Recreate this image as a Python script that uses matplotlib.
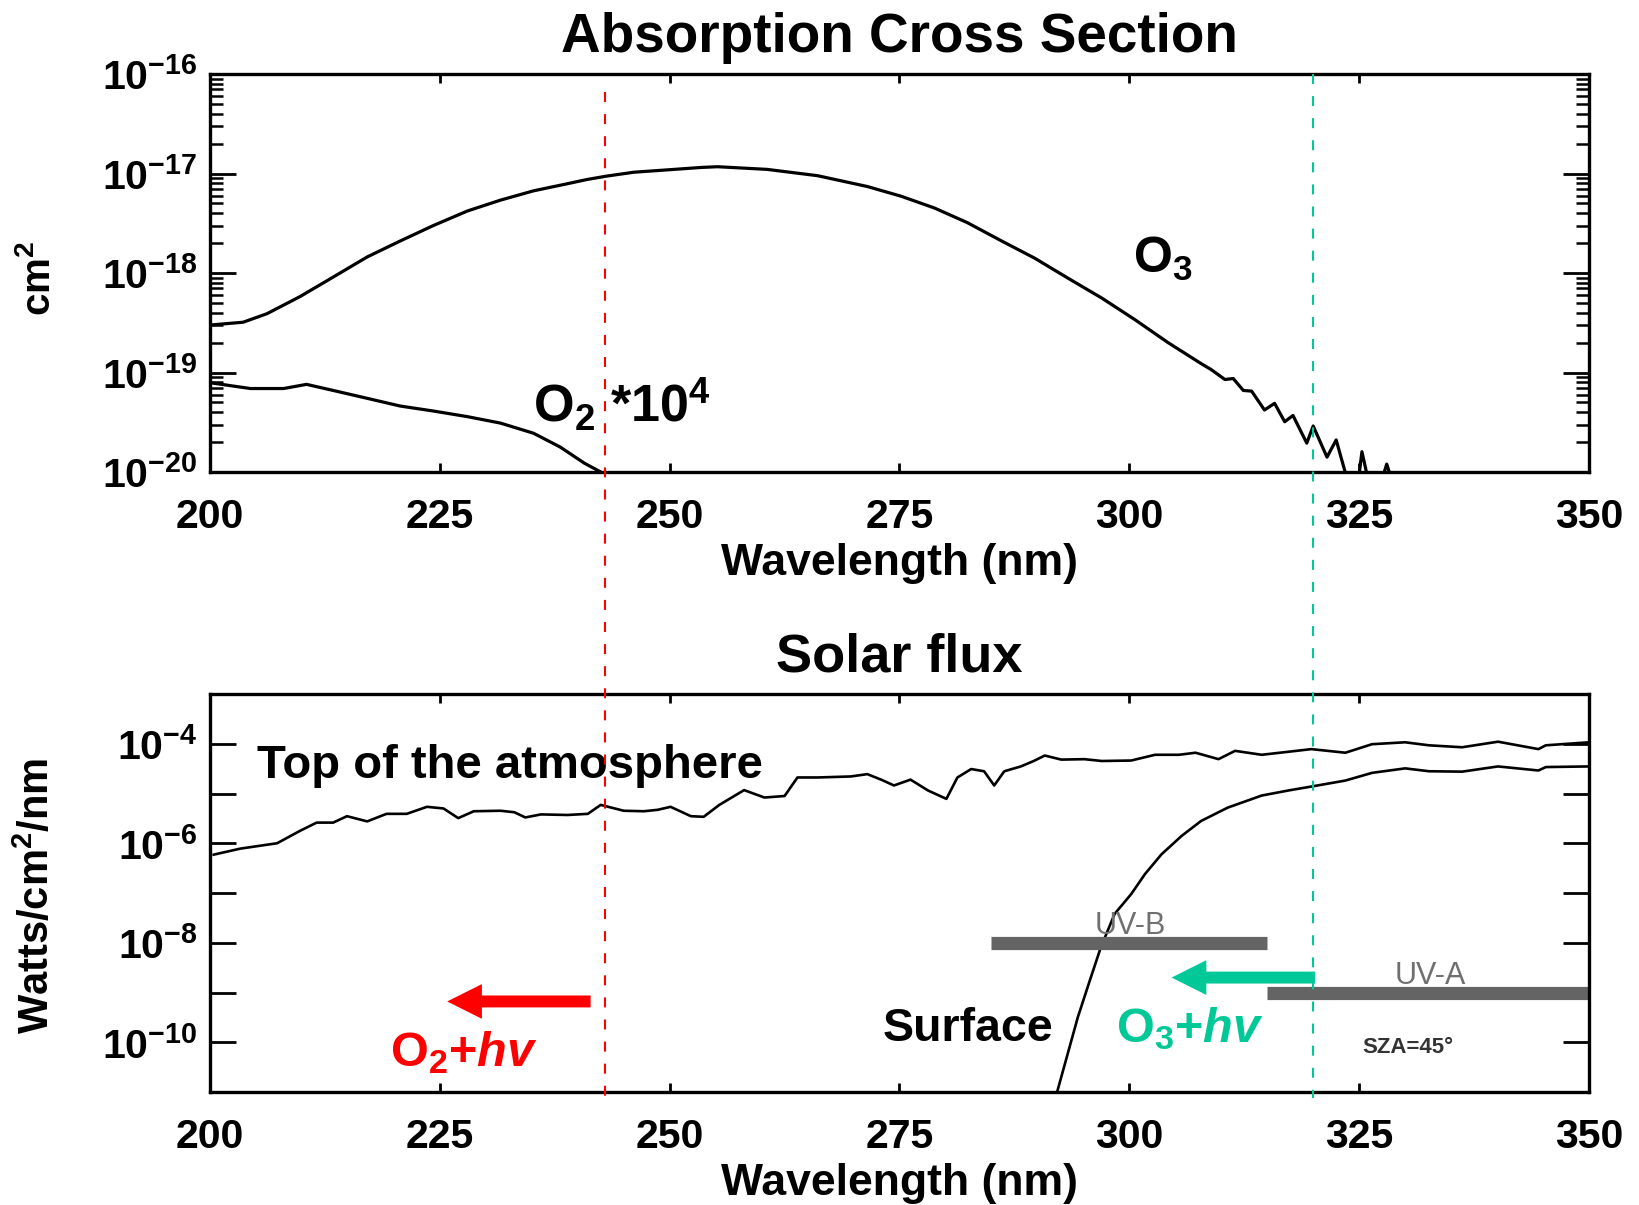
import numpy as np
import matplotlib
matplotlib.use("Agg")
import matplotlib.pyplot as plt
from matplotlib.ticker import FixedLocator, FuncFormatter, NullLocator
from matplotlib.lines import Line2D
from matplotlib.transforms import blended_transform_factory

plt.rcParams['font.family'] = ['Liberation Sans', 'DejaVu Sans']
plt.rcParams['font.weight'] = 'bold'
plt.rcParams['axes.titleweight'] = 'bold'
plt.rcParams['axes.labelweight'] = 'bold'
plt.rcParams['mathtext.fontset'] = 'custom'
plt.rcParams['mathtext.rm'] = 'Liberation Sans:bold'
plt.rcParams['mathtext.it'] = 'Liberation Sans:bold:italic'
plt.rcParams['mathtext.bf'] = 'Liberation Sans:bold'
plt.rcParams['mathtext.default'] = 'rm'

# --- absorption cross sections (cm^2) ---
o3_wl = [200.0, 203.6, 206.2, 209.8, 213.4, 217.1, 220.7, 224.3, 228.0, 231.6,
         235.2, 238.9, 241.0, 243.1, 246.1, 250.5, 253.4, 255.2, 260.6, 266.1, 271.5,
         275.2, 278.8, 282.4, 286.1, 289.7, 293.3, 297.0, 300.6, 304.2, 307.8,
         308.9, 310.4, 311.3, 312.4, 313.3, 314.7, 315.8, 316.9, 317.8, 319.3,
         320.0, 321.5, 322.5, 323.5, 324.3, 325.0, 325.3, 325.9, 327.4, 328.0,
         328.6, 330.0, 340.0, 350.0]
o3_sigma = [3.0e-19, 3.2e-19, 3.9e-19, 5.8e-19, 9.1e-19, 1.45e-18, 2.1e-18, 3.0e-18, 4.2e-18, 5.4e-18,
            6.7e-18, 7.9e-18, 8.7e-18, 9.4e-18, 1.03e-17, 1.10e-17, 1.15e-17, 1.17e-17, 1.10e-17, 9.5e-18, 7.4e-18,
            5.9e-18, 4.5e-18, 3.2e-18, 2.1e-18, 1.41e-18, 8.9e-19, 5.6e-19, 3.4e-19, 2.0e-19, 1.23e-19,
            1.07e-19, 8.5e-20, 8.7e-20, 6.6e-20, 6.5e-20, 4.2e-20, 4.9e-20, 3.2e-20, 3.7e-20, 1.95e-20,
            2.9e-20, 1.41e-20, 2.1e-20, 9.8e-21, 8.0e-21, 9.5e-21, 1.6e-20, 9.0e-21, 8.0e-21, 1.2e-20,
            8.0e-21, 5.0e-21, 1.0e-21, 1.0e-22]

o2_scale = 1e4
o2_wl = [200.0, 204.4, 208.0, 210.5, 213.4, 217.1, 220.7, 224.3, 228.0, 231.6,
         235.2, 238.1, 240.7, 242.5, 243.5, 245.0]
o2_sigma = [7.9e-24, 6.9e-24, 6.9e-24, 7.6e-24, 6.6e-24, 5.5e-24, 4.6e-24, 4.1e-24, 3.6e-24, 3.1e-24,
            2.45e-24, 1.78e-24, 1.23e-24, 1.0e-24, 8.0e-25, 5.0e-25]

# --- solar spectral irradiance (W/cm^2/nm) ---
toa_wl = [200.4, 203.3, 207.3, 209.8, 211.6, 213.4, 214.9, 217.1, 219.2, 221.4,
          223.6, 225.4, 227.0, 228.7, 231.6, 233.1, 234.3, 236.0, 238.9, 241.1,
          242.5, 245.0, 247.2, 248.7, 250.1, 252.3, 253.7, 255.4, 258.1, 260.3,
          262.5, 263.9, 266.1, 269.7, 271.5, 273.0, 274.4, 276.2, 278.1, 280.1,
          281.3, 282.8, 284.2, 285.3, 286.4, 288.2, 289.6, 290.8, 292.6, 295.1,
          297.0, 300.2, 302.8, 305.4, 307.2, 309.7, 311.5, 314.4, 317.3, 319.8,
          323.5, 326.4, 330.0, 332.6, 336.2, 340.1, 344.5, 345.3, 350.0]
toa_flux = [5.9e-7, 7.8e-7, 1.0e-6, 1.78e-6, 2.6e-6, 2.6e-6, 3.5e-6, 2.75e-6, 3.9e-6, 3.9e-6,
            5.4e-6, 5.0e-6, 3.2e-6, 4.4e-6, 4.5e-6, 4.2e-6, 3.3e-6, 3.8e-6, 3.7e-6, 3.9e-6,
            5.9e-6, 4.5e-6, 4.4e-6, 4.7e-6, 5.4e-6, 3.5e-6, 3.4e-6, 5.9e-6, 1.17e-5, 8.3e-6,
            8.9e-6, 2.1e-5, 2.1e-5, 2.2e-5, 2.45e-5, 1.9e-5, 1.45e-5, 1.9e-5, 1.15e-5, 7.8e-6,
            2.1e-5, 3.1e-5, 2.8e-5, 1.45e-5, 2.8e-5, 3.5e-5, 4.5e-5, 5.8e-5, 4.8e-5, 4.9e-5,
            4.5e-5, 4.6e-5, 6.0e-5, 6.0e-5, 6.6e-5, 4.9e-5, 7.2e-5, 6.0e-5, 6.9e-5, 7.8e-5,
            6.6e-5, 9.8e-5, 1.07e-4, 9.3e-5, 8.5e-5, 1.10e-4, 7.8e-5, 9.3e-5, 1.07e-4]

sfc_wl = [292.0, 293.3, 294.4, 295.7, 296.9, 298.4, 300.2, 301.7, 303.5, 305.7,
          307.8, 310.7, 314.4, 317.3, 319.8, 323.5, 326.4, 330.0, 332.6, 336.2,
          340.1, 344.5, 345.3, 350.0]
sfc_flux = [8.0e-12, 5.9e-11, 3.2e-10, 1.74e-9, 8.1e-9, 3.8e-8, 9.5e-8, 2.4e-7, 6.0e-7, 1.41e-6,
            2.8e-6, 5.2e-6, 9.1e-6, 1.15e-5, 1.38e-5, 1.82e-5, 2.6e-5, 3.2e-5, 2.8e-5, 2.75e-5,
            3.5e-5, 2.9e-5, 3.4e-5, 3.5e-5]

# UV bands: name, start, end, level
uv_names = ['UV-B', 'UV-A']
uv_start = [285, 315]
uv_end = [315, 350]
uv_level = [1e-8, 1e-9]
uv_label_x = [300.1, 332.7]

# photolysis thresholds (nm)
o2_threshold = 243
o3_threshold = 320

RED = '#ff0000'
GREEN = '#00c896'

W, H = 1639, 1205
fig = plt.figure(figsize=(W / 100, H / 100), dpi=100)
ax1 = fig.add_axes([210 / W, 1 - 472 / H, 1379 / W, 398 / H])
ax2 = fig.add_axes([210 / W, 1 - 1092 / H, 1379 / W, 398 / H])


def exp_label(v, pos):
    return r'$10^{%d}$' % round(np.log10(v))


def even_exp_label(v, pos):
    k = round(np.log10(v))
    if k % 2 == 0 and k < -3:
        return r'$10^{%d}$' % k
    return ''


for ax in (ax1, ax2):
    for s in ax.spines.values():
        s.set_linewidth(2.4)
    ax.set_xlim(200, 350)
    ax.set_xticks([200, 225, 250, 275, 300, 325, 350])
    ax.set_yscale('log')
    ax.tick_params(which='both', direction='in', top=True, right=True, width=2, labelsize=29.5)
    ax.tick_params(axis='x', which='major', length=6.5, pad=19)
    ax.tick_params(axis='y', which='major', length=19, pad=9)
    ax.tick_params(axis='y', which='minor', length=9.5, width=1.8)
    ax.set_xlabel('Wavelength (nm)', fontsize=32, labelpad=5)

# top panel: cross sections
ax1.set_ylim(1e-20, 1e-16)
ax1.yaxis.set_major_locator(FixedLocator([10.0 ** k for k in range(-20, -15)]))
ax1.yaxis.set_minor_locator(FixedLocator([m * 10.0 ** k for k in range(-20, -16) for m in range(2, 10)]))
ax1.yaxis.set_major_formatter(FuncFormatter(exp_label))
ax1.yaxis.set_minor_formatter(FuncFormatter(lambda v, pos: ''))
ax1.plot(o3_wl, o3_sigma, color='black', lw=2.3)
ax1.plot(o2_wl, np.array(o2_sigma) * o2_scale, color='black', lw=2.3)
ax1.set_title('Absorption Cross Section', fontsize=39.5, pad=16)
ax1.text(300.4, 1e-18, r'O$_3$', fontsize=36, ha='left', va='baseline')
ax1.text(235.1, 3.16e-20, r'O$_2$ *10$^{%d}$' % round(np.log10(o2_scale)), fontsize=37.5,
         ha='left', va='baseline')

# bottom panel: solar flux
ax2.set_ylim(1e-11, 1e-3)
ax2.yaxis.set_major_locator(FixedLocator([10.0 ** k for k in range(-11, -2)]))
ax2.yaxis.set_minor_locator(NullLocator())
ax2.yaxis.set_major_formatter(FuncFormatter(even_exp_label))
ax2.plot(toa_wl, toa_flux, color='black', lw=1.9)
ax2.plot(sfc_wl, sfc_flux, color='black', lw=1.9)
ax2.set_title('Solar flux', fontsize=39, pad=16.5)

for name, x0, x1, lev, lx in zip(uv_names, uv_start, uv_end, uv_level, uv_label_x):
    ax2.plot([x0, x1], [lev, lev], color='#646464', lw=9.5, solid_capstyle='butt')
    ax2.text(lx, lev * 10 ** 0.18, name, fontsize=22, fontweight='normal', color='#707070',
             ha='center', va='baseline')

ax2.text(205.1, 10 ** -4.68, 'Top of the atmosphere', fontsize=34, ha='left', va='baseline')
ax2.text(273.2, 10 ** -9.98, 'Surface', fontsize=33.5, ha='left', va='baseline')
ax2.text(330.3, 10 ** -10.22, 'SZA=45°', fontsize=16, color='#333333', ha='center', va='baseline')

arrow_style = 'simple,head_length=25,head_width=25,tail_width=8.6'
ax2.annotate('', xy=(225.8, 10 ** -9.18), xytext=(241.4, 10 ** -9.18),
             arrowprops=dict(arrowstyle=arrow_style, mutation_scale=1, color=RED, lw=0,
                             shrinkA=0, shrinkB=0))
ax2.annotate('', xy=(304.6, 10 ** -8.70), xytext=(320.2, 10 ** -8.70),
             arrowprops=dict(arrowstyle=arrow_style, mutation_scale=1, color=GREEN, lw=0,
                             shrinkA=0, shrinkB=0))
ax2.text(219.6, 10 ** -10.49, r'O$_2$+$\mathit{hv}$', fontsize=35, color=RED, ha='left', va='baseline')
ax2.text(298.6, 10 ** -10.0, r'O$_3$+$\mathit{hv}$', fontsize=35, color=GREEN, ha='left', va='baseline')

# axis titles on the left
fig.text(38 / W, 1 - 278 / H, r'cm$^2$', rotation=90, ha='center', va='center', fontsize=29)
fig.text(37 / W, 1 - 896 / H, r'Watts/cm$^2$/nm', rotation=90, ha='center', va='center', fontsize=30)

# threshold lines running through both panels
tr = blended_transform_factory(ax1.transData, fig.transFigure)
fig.add_artist(Line2D([o2_threshold, o2_threshold], [1 - 92 / H, 1 - 1096 / H], transform=tr,
                      color=RED, lw=1.5, dashes=(4.8, 5.8)))
fig.add_artist(Line2D([o3_threshold, o3_threshold], [1 - 74 / H, 1 - 1098 / H], transform=tr,
                      color=GREEN, lw=1.5, dashes=(4.8, 5.8)))

fig.savefig('out.png', dpi=100)
